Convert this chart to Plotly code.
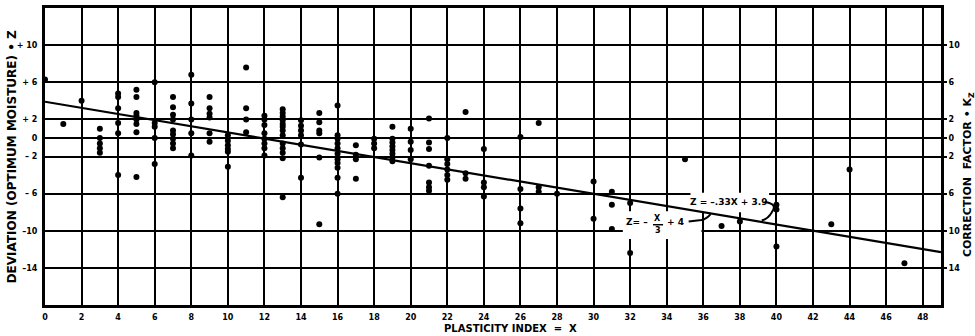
import plotly.graph_objects as go

# ---- data ----
plasticity_index = [0, 1, 2, 3, 4, 5, 6, 7, 8, 9, 10, 11, 12, 13, 14, 15, 16, 17, 18, 19,
                    20, 21, 22, 23, 24, 26, 27, 28, 30, 31, 32, 35, 37, 38, 40, 43, 44, 47]
deviation_by_pi = [
    [6.3],
    [1.5],
    [4.0],
    [1.0, 0.0, -0.6, -1.1, -1.6],
    [4.8, 4.4, 3.2, 1.6, 0.5, -4.0],
    [5.2, 4.4, 2.7, 2.4, 2.0, 1.5, 0.6, -4.2],
    [6.0, 1.6, 1.2, 0.0, -2.8],
    [4.4, 3.3, 2.5, 2.0, 0.8, 0.4, -0.1, -0.6, -1.1],
    [6.8, 3.7, 2.0, 0.5, -1.9],
    [4.4, 3.2, 2.6, 2.2, 0.5, -0.4],
    [0.3, -0.3, -0.8, -1.2, -1.5, -3.1],
    [7.6, 3.2, 2.0, 0.6],
    [2.4, 2.0, 1.4, 0.5, -0.1, -0.6, -1.1, -1.9],
    [3.1, 2.7, 2.3, 1.9, 1.5, 1.2, 0.8, 0.3, -0.6, -1.1, -1.6, -2.2, -6.4],
    [1.9, 1.3, 0.8, 0.3, -0.7, -4.3],
    [2.7, 1.7, 0.8, 0.5, -2.1, -9.3],
    [3.5, 0.3, -0.1, -0.6, -1.1, -1.7, -2.3, -2.7, -3.2, -4.3, -6.0],
    [-0.8, -1.8, -2.3, -4.4],
    [-0.1, -0.6, -1.1],
    [1.2, -0.1, -0.5, -0.9, -1.3, -1.7, -2.1, -2.5],
    [1.0, -0.4, -1.3, -2.3],
    [2.1, -0.5, -1.2, -3.0, -4.8, -5.3, -5.7],
    [0.0, -2.3, -2.8, -3.4, -4.0, -4.5],
    [2.8, -3.8, -4.4],
    [-1.2, -4.8, -5.3, -6.3],
    [0.1, -5.5, -7.6, -9.2],
    [1.6, -5.3, -5.8],
    [-6.0],
    [-4.7, -8.7],
    [-5.8, -7.2, -9.8],
    [-7.0, -12.4],
    [-2.3],
    [-9.5],
    [-9.0],
    [-7.2, -7.7, -11.7],
    [-9.3],
    [-3.4],
    [-13.5],
]

# fitted line end points (Z = -.33X + 3.9)
fit_x = [0, 49]
fit_z = [3.9, -12.3]

x_ticks = list(range(0, 49, 2))
x_ticktext = [str(v) for v in x_ticks]
y_ticks = [10, 6, 2, 0, -2, -6, -10, -14]
y_ticktext_left = ["+ 10", "+ 6", "+ 2", "0", "– 2", "– 6", "–10", "–14"]
y_ticktext_right = ["10", "6", "2", "0", "2", "6", "10", "14"]

# ---- build ----
pts_x, pts_z = [], []
for xv, zs in zip(plasticity_index, deviation_by_pi):
    for zv in zs:
        pts_x.append(xv)
        pts_z.append(zv)

FONT = "DejaVu Sans"
TICKFONT = dict(family=FONT, size=8, color="black", weight="bold")
fig = go.Figure()
fig.add_trace(go.Scatter(x=fit_x, y=fit_z, mode="lines",
                         line=dict(color="black", width=2.2), hoverinfo="skip"))
fig.add_trace(go.Scatter(x=pts_x, y=pts_z, mode="markers",
                         marker=dict(color="black", size=6), hoverinfo="skip"))
fig.add_trace(go.Scatter(x=fit_x, y=fit_z, mode="lines", yaxis="y2",
                         line=dict(color="rgba(0,0,0,0)", width=0), hoverinfo="skip"))

axis_common = dict(showgrid=True, gridcolor="black", gridwidth=2, zeroline=False,
                   showline=True, linecolor="black", linewidth=3, mirror=True,
                   tickfont=TICKFONT)

fig.update_layout(
    width=975, height=336,
    margin=dict(l=45, r=34, t=8, b=31, autoexpand=False),
    paper_bgcolor="white", plot_bgcolor="white",
    showlegend=False,
    xaxis=dict(range=[0, 49], tickvals=x_ticks, ticktext=x_ticktext, ticks="",
               ticklabelstandoff=2, **axis_common),
    yaxis=dict(range=[-18, 14], tickvals=y_ticks, ticktext=y_ticktext_left, ticks="",
               ticklabelstandoff=3, **axis_common),
    yaxis2=dict(range=[-18, 14], overlaying="y", side="right", tickvals=y_ticks,
                ticktext=y_ticktext_right, ticks="outside", ticklen=5, tickwidth=2,
                tickcolor="black", showgrid=False, zeroline=False, showline=False,
                ticklabelstandoff=0, tickfont=TICKFONT),
)

# white patches behind the equation labels (cover gridlines)
fig.add_shape(type="rect", xref="x", yref="y", x0=31.6, x1=35.9, y0=-10.9, y1=-7.9,
              fillcolor="white", line=dict(width=0), layer="between")
fig.add_shape(type="rect", xref="x", yref="y", x0=35.3, x1=39.6, y0=-8.0, y1=-5.9,
              fillcolor="white", line=dict(width=0), layer="between")

lab = dict(family=FONT, size=9, color="black", weight="bold")
fig.add_annotation(x=37.4, y=-6.95, xref="x", yref="y", text="Z = –.33X + 3.9",
                   showarrow=False, font=lab)
fig.add_shape(type="path", xref="x", yref="y",
              path="M 39.35,-6.9 Q 40.1,-7.1 39.75,-8.0 Q 39.55,-8.7 39.2,-8.9",
              line=dict(color="black", width=2))
fig.add_annotation(x=32.35, y=-9.05, xref="x", yref="y", text="Z= –",
                   showarrow=False, font=lab)
fig.add_annotation(x=33.52, y=-8.7, xref="x", yref="y", text="X",
                   showarrow=False, font=dict(family=FONT, size=8, color="black", weight="bold"))
fig.add_annotation(x=33.52, y=-9.95, xref="x", yref="y", text="3",
                   showarrow=False, font=dict(family=FONT, size=8, color="black", weight="bold"))
fig.add_shape(type="line", xref="x", yref="y", x0=33.25, x1=33.8, y0=-9.35, y1=-9.35,
              line=dict(color="black", width=1.5))
fig.add_annotation(x=34.5, y=-9.05, xref="x", yref="y", text="+ 4",
                   showarrow=False, font=lab)
fig.add_shape(type="path", xref="x", yref="y",
              path="M 35.2,-9.0 L 35.9,-8.85 Q 36.2,-8.7 36.4,-8.2",
              line=dict(color="black", width=2))

# axis titles
fig.add_annotation(x=-0.037, y=0.5, xref="paper", yref="paper", xanchor="center",
                   text="DEVIATION (OPTIMUM MOISTURE) • Z", textangle=-90, showarrow=False,
                   font=dict(family=FONT, size=12, color="black", weight="bold"))
fig.add_annotation(x=0.519, y=-0.078, xref="paper", yref="paper", yanchor="middle",
                   text="PLASTICITY INDEX  =  X", showarrow=False,
                   font=dict(family=FONT, size=10, color="black", weight="bold"))
fig.add_annotation(x=1.031, y=0.44, xref="paper", yref="paper", xanchor="center",
                   text="CORRECTION  FACTOR • K<sub>Z</sub>", textangle=-90, showarrow=False,
                   font=dict(family=FONT, size=11, color="black", weight="bold"))

fig.write_html("out.html", config={"displayModeBar": False},
               post_script="document.body.style.margin='0';document.body.style.padding='0';")
